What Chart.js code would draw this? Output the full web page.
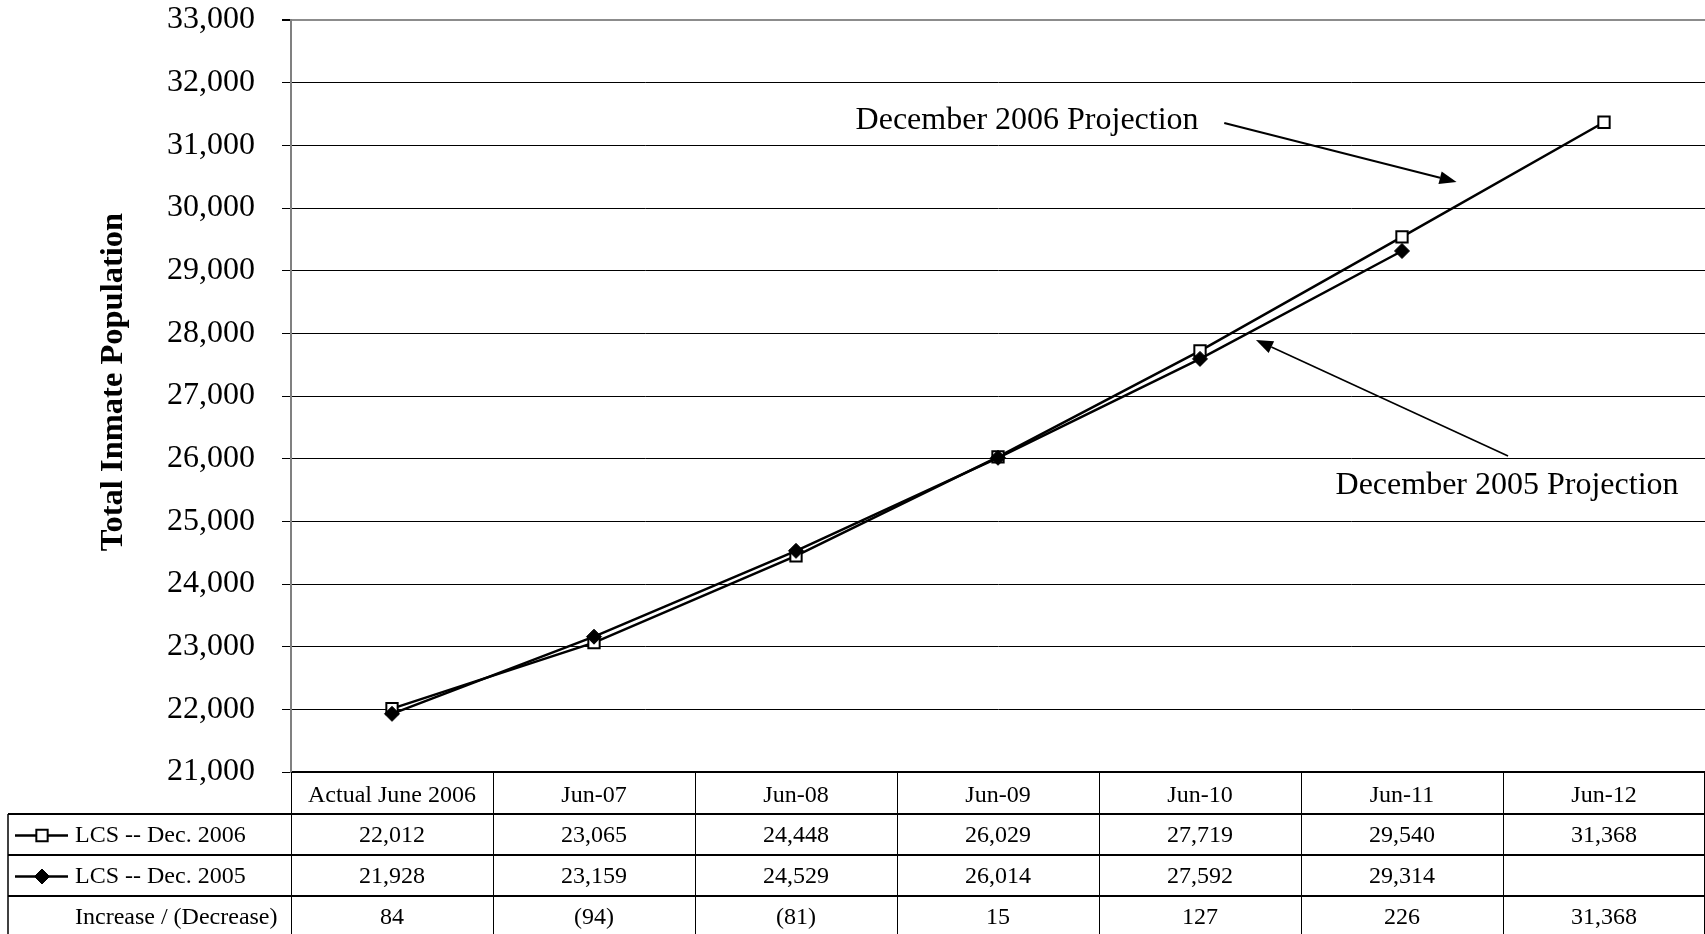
<!DOCTYPE html>
<html>
<head>
<meta charset="utf-8">
<title>Total Inmate Population</title>
<script src="https://cdn.jsdelivr.net/npm/chart.js@4.4.0/dist/chart.umd.min.js"></script>
<style>
  html, body { margin: 0; padding: 0; background: #fff; overflow: hidden; }
  #wrap { width: 1705px; height: 934px; position: relative; overflow: hidden; }
  #chart { display: block; }
</style>
</head>
<body>
<div id="wrap"><canvas id="chart" width="1705" height="934"></canvas></div>
<script>
// ---- data ----
const categories = ['Actual June 2006', 'Jun-07', 'Jun-08', 'Jun-09', 'Jun-10', 'Jun-11', 'Jun-12'];
const seriesNames = ['LCS -- Dec. 2006', 'LCS -- Dec. 2005'];
const dec2006 = [22012, 23065, 24448, 26029, 27719, 29540, 31368];
const dec2005 = [21928, 23159, 24529, 26014, 27592, 29314, null];
const increase = [84, -94, -81, 15, 127, 226, 31368];
const increaseLabel = 'Increase / (Decrease)';
const yMin = 21000;
const yMax = 33000;
const yStep = 1000;
const yTitle = 'Total Inmate Population';
const callouts = ['December 2006 Projection', 'December 2005 Projection'];

// ---- look ----
const SERIF = "'Liberation Serif', 'Times New Roman', Times, serif";
const fmt = v => v.toLocaleString('en-US');
const fmtChange = v => v < 0 ? '(' + fmt(-v) + ')' : fmt(v);

// callout placement in axis units (category index, population)
const calloutPlacement = [
  { text: [3.144, 31388], from: [4.12, 31356], to: [5.27, 30415] },
  { text: [5.52, 25564],  from: [5.525, 26043], to: [4.277, 27894] }
];

const seriesStyle = [
  { pointStyle: 'rect',    radius: 8, borderWidth: 2, fill: '#ffffff' },
  { pointStyle: 'rectRot', radius: 7.5, borderWidth: 1, fill: '#000000' }
];

function drawArrow(ctx, x1, y1, x2, y2, width) {
  const ang = Math.atan2(y2 - y1, x2 - x1);
  const headLen = 17, headHalf = 6.5;
  const bx = x2 - headLen * Math.cos(ang), by = y2 - headLen * Math.sin(ang);
  ctx.save();
  ctx.strokeStyle = '#000';
  ctx.fillStyle = '#000';
  ctx.lineWidth = width;
  ctx.beginPath();
  ctx.moveTo(x1, y1);
  ctx.lineTo(bx, by);
  ctx.stroke();
  ctx.beginPath();
  ctx.moveTo(x2, y2);
  ctx.lineTo(bx + headHalf * Math.sin(ang), by - headHalf * Math.cos(ang));
  ctx.lineTo(bx - headHalf * Math.sin(ang), by + headHalf * Math.cos(ang));
  ctx.closePath();
  ctx.fill();
  ctx.restore();
}

function drawMarker(ctx, style, x, y) {
  ctx.save();
  ctx.fillStyle = style.fill;
  ctx.strokeStyle = '#000';
  ctx.lineWidth = style.borderWidth;
  Chart.helpers.drawPoint(ctx, {
    pointStyle: style.pointStyle, rotation: 0,
    radius: style.radius, borderWidth: style.borderWidth
  }, x, y);
  ctx.restore();
}

// Rotated y-axis caption, set a little above the middle of the plot
const axisCaptionPlugin = {
  id: 'axisCaption',
  afterDraw(chart) {
    const { ctx, chartArea } = chart;
    ctx.save();
    ctx.translate(114, (chartArea.top + chartArea.bottom) / 2 - 14);
    ctx.rotate(-Math.PI / 2);
    ctx.font = 'bold 32.5px ' + SERIF;
    ctx.fillStyle = '#000';
    ctx.textAlign = 'center';
    ctx.textBaseline = 'middle';
    ctx.fillText(yTitle, 0, 0);
    ctx.restore();
  }
};

// Callout labels with arrows pointing at the two projection lines
const calloutPlugin = {
  id: 'callouts',
  afterDatasetsDraw(chart) {
    const { ctx, scales: { x, y } } = chart;
    ctx.save();
    ctx.font = '32px ' + SERIF;
    ctx.fillStyle = '#000';
    ctx.textAlign = 'center';
    ctx.textBaseline = 'middle';
    callouts.forEach((label, i) => {
      const p = calloutPlacement[i];
      ctx.fillText(label, x.getPixelForValue(p.text[0]), y.getPixelForValue(p.text[1]));
      drawArrow(ctx,
        x.getPixelForValue(p.from[0]), y.getPixelForValue(p.from[1]),
        x.getPixelForValue(p.to[0]), y.getPixelForValue(p.to[1]), i === 0 ? 2 : 1.6);
    });
    ctx.restore();
  }
};

// Data table under the x axis: legend keys, values and the difference row
const tablePlugin = {
  id: 'dataTable',
  afterDraw(chart) {
    const { ctx, chartArea, scales: { x } } = chart;
    const half = (x.getPixelForValue(1) - x.getPixelForValue(0)) / 2;
    const top = chartArea.bottom;
    const headBottom = x.bottom;
    const rowH = 41;
    const tableLeft = 8;
    const rows = [
      dec2006.map(v => v == null ? '' : fmt(v)),
      dec2005.map(v => v == null ? '' : fmt(v)),
      increase.map(fmtChange)
    ];
    const rowLabels = [seriesNames[0], seriesNames[1], increaseLabel];
    const bottom = headBottom + rowH * rows.length + 4;

    ctx.save();
    ctx.strokeStyle = '#000';

    // column separators
    ctx.lineWidth = 1;
    for (let i = 0; i <= categories.length; i++) {
      const cx = Math.round(x.getPixelForValue(i) - half) + 0.5;
      ctx.beginPath();
      ctx.moveTo(Math.min(cx, chart.width - 0.5), top);
      ctx.lineTo(Math.min(cx, chart.width - 0.5), bottom);
      ctx.stroke();
    }
    // left edge of the label column
    ctx.lineWidth = 1.5;
    ctx.beginPath();
    ctx.moveTo(tableLeft, headBottom);
    ctx.lineTo(tableLeft, bottom);
    ctx.stroke();
    // row separators
    ctx.lineWidth = 2;
    for (let r = 0; r < rows.length; r++) {
      const ry = headBottom + rowH * r;
      ctx.beginPath();
      ctx.moveTo(tableLeft, ry);
      ctx.lineTo(chart.width, ry);
      ctx.stroke();
    }

    ctx.font = '24px ' + SERIF;
    ctx.fillStyle = '#000';
    ctx.textBaseline = 'middle';
    rows.forEach((cells, r) => {
      const cy = headBottom + rowH * r + rowH / 2 + 1;
      ctx.textAlign = 'center';
      cells.forEach((t, i) => ctx.fillText(t, x.getPixelForValue(i), cy));
      ctx.textAlign = 'left';
      ctx.fillText(rowLabels[r], 75, cy);
      if (r < 2) {
        ctx.strokeStyle = '#000';
        ctx.lineWidth = 2.5;
        ctx.beginPath();
        ctx.moveTo(15, cy);
        ctx.lineTo(68, cy);
        ctx.stroke();
        drawMarker(ctx, seriesStyle[r], 42, cy);
      }
    });
    ctx.restore();
  }
};

Chart.defaults.color = '#000';
Chart.defaults.font.family = SERIF;

new Chart(document.getElementById('chart'), {
  type: 'line',
  data: {
    labels: categories,
    datasets: [dec2006, dec2005].map((values, i) => ({
      label: seriesNames[i],
      data: values,
      borderColor: '#000',
      borderWidth: 2.5,
      backgroundColor: seriesStyle[i].fill,
      pointStyle: seriesStyle[i].pointStyle,
      pointRadius: seriesStyle[i].radius,
      pointBorderWidth: seriesStyle[i].borderWidth,
      pointBorderColor: '#000',
      pointBackgroundColor: seriesStyle[i].fill,
      tension: 0,
      spanGaps: false
    })).reverse()
  },
  options: {
    responsive: false,
    devicePixelRatio: 1,
    animation: false,
    layout: { autoPadding: false, padding: { top: 20, right: 0, bottom: 120, left: 0 } },
    plugins: {
      legend: { display: false },
      tooltip: { enabled: false }
    },
    scales: {
      x: {
        offset: true,
        grid: { display: false, drawTicks: false },
        border: { display: true, color: '#000', width: 2 },
        ticks: { font: { size: 24, family: SERIF }, padding: 9, maxRotation: 0, autoSkip: false },
        afterFit: s => { s.height = 42; s.paddingLeft = 0; s.paddingRight = 0; }
      },
      y: {
        min: yMin,
        max: yMax,
        grid: {
          color: c => (c.tick && c.tick.value === yMax) ? '#8c8c8c' : '#000',
          lineWidth: c => (c.tick && c.tick.value === yMax) ? 2 : 1,
          tickColor: '#000',
          tickLength: 9,
          drawTicks: true
        },
        border: { display: true, color: '#808080', width: 2 },
        ticks: {
          stepSize: yStep,
          padding: 27,
          font: { size: 32, family: SERIF },
          callback: v => fmt(v)
        },
        title: { display: false, text: yTitle },
        afterFit: s => { s.width = 291; s.paddingTop = 0; s.paddingBottom = 0; }
      }
    }
  },
  plugins: [calloutPlugin, tablePlugin, axisCaptionPlugin]
});
</script>
</body>
</html>
